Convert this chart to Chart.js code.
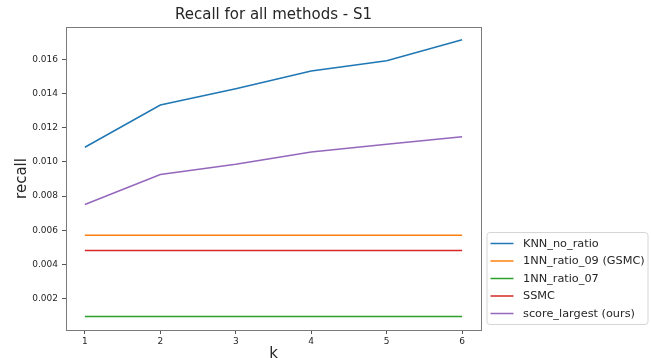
<!DOCTYPE html>
<html>
<head>
<meta charset="utf-8">
<script src="https://cdn.jsdelivr.net/npm/chart.js@4"></script>
<style>
  html, body { margin: 0; padding: 0; background: #fff; }
  #wrap { width: 651px; height: 358px; }
</style>
</head>
<body>
<div id="wrap"><canvas id="recallChart" width="651" height="358"></canvas></div>
<script>
// valores
const kValues = [1, 2, 3, 4, 5, 6];
const knnNoRatio = [0.01086, 0.01333, 0.01428, 0.01533, 0.01593, 0.01715];
const nnRatio09 = [0.00571, 0.00571, 0.00571, 0.00571, 0.00571, 0.00571];
const nnRatio07 = [0.00096, 0.00096, 0.00096, 0.00096, 0.00096, 0.00096];
const ssmc = [0.00481, 0.00481, 0.00481, 0.00481, 0.00481, 0.00481];
const scoreLargest = [0.00751, 0.00926, 0.00986, 0.01058, 0.01103, 0.01148];
const xTicks = [1, 2, 3, 4, 5, 6];
const yTicks = [0.002, 0.004, 0.006, 0.008, 0.010, 0.012, 0.014, 0.016];

const FONT = "'DejaVu Sans', sans-serif";

function serie(label, values, color) {
  return {
    label,
    data: values.map((v, i) => ({ x: kValues[i], y: v })),
    borderColor: color,
    backgroundColor: color,
    borderWidth: 1.5,
    pointRadius: 0,
    tension: 0,
  };
}

// marco completo (4 lados) y leyenda fuera del área
const framePlugin = {
  id: "frame",
  afterDraw(chart) {
    const { ctx, chartArea } = chart;
    ctx.save();
    ctx.strokeStyle = "#7a7a7a";
    ctx.lineWidth = 1;
    ctx.strokeRect(Math.round(chartArea.left) + 0.5, Math.round(chartArea.top) + 0.5,
      Math.round(chartArea.right - chartArea.left), Math.round(chartArea.bottom - chartArea.top));

    // leyenda
    const items = chart.data.datasets;
    const w = 161, rowH = 17.5, h = 92;
    const left = chartArea.right + 5.5;
    const top = chartArea.bottom - 6 - h;
    ctx.beginPath();
    ctx.roundRect(left + 0.5, top + 0.5, w, h, 3);
    ctx.fillStyle = "rgba(255,255,255,0.8)";
    ctx.fill();
    ctx.strokeStyle = "#d6d6d6";
    ctx.stroke();
    ctx.font = "11.3px " + FONT;
    ctx.textBaseline = "middle";
    ctx.textAlign = "left";
    items.forEach((ds, i) => {
      const cy = top + 11.5 + i * rowH;
      ctx.beginPath();
      ctx.moveTo(left + 4, cy);
      ctx.lineTo(left + 27, cy);
      ctx.strokeStyle = ds.borderColor;
      ctx.lineWidth = 1.5;
      ctx.stroke();
      ctx.fillStyle = "#262626";
      ctx.fillText(ds.label, left + 36.5, cy + 0.5);
    });
    ctx.restore();
  },
};

new Chart(document.getElementById("recallChart").getContext("2d"), {
  type: "line",
  data: {
    datasets: [
      serie("KNN_no_ratio", knnNoRatio, "#1f77b4"),
      serie("1NN_ratio_09 (GSMC)", nnRatio09, "#ff7f0e"),
      serie("1NN_ratio_07", nnRatio07, "#2ca02c"),
      serie("SSMC", ssmc, "#d62728"),
      serie("score_largest (ours)", scoreLargest, "#9467bd"),
    ],
  },
  options: {
    responsive: false,
    animation: false,
    layout: { padding: { left: 0, right: 170, top: 0, bottom: 0 } },
    plugins: {
      legend: { display: false },
      tooltip: { enabled: false },
      title: {
        display: true,
        text: "Recall for all methods - S1",
        fullSize: false,
        color: "#262626",
        font: { family: FONT, size: 15, weight: "normal" },
        padding: { top: 6, bottom: 3 },
      },
    },
    scales: {
      x: {
        type: "linear",
        min: 0.75,
        max: 6.25,
        afterBuildTicks: (scale) => {
          scale.ticks = xTicks.map((v) => ({ value: v }));
        },
        afterFit: (scale) => {
          scale.height = 28;
        },
        grid: { drawOnChartArea: false, drawTicks: true, tickLength: 4, color: "#555" },
        border: { display: false },
        ticks: {
          color: "#262626",
          padding: 2,
          maxRotation: 0,
          font: { family: FONT, size: 9 },
          callback: (v) => String(v),
        },
        title: {
          display: true,
          text: "k",
          color: "#262626",
          font: { family: FONT, size: 15 },
          padding: { top: 0, bottom: -5 },
        },
      },
      y: {
        min: 0.000163,
        max: 0.0179,
        afterBuildTicks: (scale) => {
          scale.ticks = yTicks.map((v) => ({ value: v }));
        },
        afterFit: (scale) => {
          scale.width = 66;
        },
        grid: { drawOnChartArea: false, drawTicks: true, tickLength: 4, color: "#555" },
        border: { display: false },
        ticks: {
          color: "#262626",
          padding: 4,
          font: { family: FONT, size: 9 },
          callback: (v) => v.toFixed(3),
        },
        title: {
          display: true,
          text: "recall",
          color: "#262626",
          font: { family: FONT, size: 15 },
          padding: { top: 13.5, bottom: 0 },
        },
      },
    },
  },
  plugins: [framePlugin],
});
</script>
</body>
</html>
